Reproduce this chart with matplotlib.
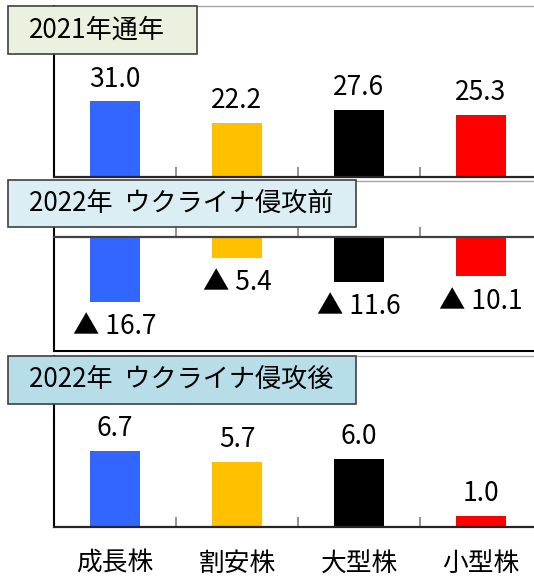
import numpy as np
import matplotlib
matplotlib.use("Agg")
import matplotlib.pyplot as plt
from matplotlib.patches import Rectangle

plt.rcParams['font.family'] = ['Noto Sans CJK JP', 'DejaVu Sans']

categories = ["成長株", "割安株", "大型株", "小型株"]
bar_colors = ["#3366FF", "#FFC000", "#000000", "#FF0000"]

titles = ["2021年通年", "2022年  ウクライナ侵攻前", "2022年  ウクライナ侵攻後"]
title_fills = ["#EBF1DE", "#DAEEF3", "#B7DEE8"]

returns_2021 = [31.0, 22.2, 27.6, 25.3]
returns_pre = [-16.7, -5.4, -11.6, -10.1]
returns_post = [6.7, 5.7, 6.0, 1.0]

W, H = 534, 577


def fx(px):
    return px / W


def fy(py):
    return 1 - py / H


fig = plt.figure(figsize=(W / 100, H / 100), dpi=100)

# (values, ylim, axes top px, axes bottom px, title box (x0, x1, y0, y1))
panels = [
    (returns_2021, (0, 70), 6, 177, (7.5, 196.5, 6, 53.5)),
    (returns_pre, (-29.5, 14.5), 181, 351, (7.5, 356, 180, 227)),
    (returns_post, (0, 15), 356, 527, (7.5, 356, 356, 403.5)),
]

x = np.arange(len(categories))
for i, (vals, ylim, top, bottom, box) in enumerate(panels):
    ax = fig.add_axes([fx(54), fy(bottom), fx(488), (bottom - top) / H])
    ax.bar(x, vals, width=0.41, color=bar_colors, zorder=2)
    ax.set_xlim(-0.5, 3.5)
    ax.set_ylim(*ylim)
    ax.set_yticks([])

    for s in ["left", "right", "top", "bottom"]:
        ax.spines[s].set_visible(False)
    ax.spines["left"].set_visible(True)
    ax.spines["left"].set_color("black")
    ax.spines["left"].set_linewidth(1.5)
    ax.spines["top"].set_visible(True)
    ax.spines["top"].set_color("#A6A6A6")
    ax.spines["top"].set_linewidth(1.0)
    ax.spines["bottom"].set_visible(True)
    ax.spines["bottom"].set_color("#262626")
    ax.spines["bottom"].set_linewidth(1.6)

    if ylim[0] < 0:
        # zero line carries the category ticks, frame line at the bottom
        ax.spines["bottom"].set_position(("data", 0))
        ax.spines["bottom"].set_color("#404040")
        ax.axhline(ylim[0], color="black", lw=1.5, clip_on=False)

    ax.set_xticks([0.5, 1.5, 2.5], minor=True)
    ax.tick_params(axis="x", which="minor", direction="in", length=7,
                   width=1.2, color="#808080")
    ax.set_xticks(x)
    if i == 2:
        ax.set_xticklabels(categories, fontsize=18.5)
        ax.tick_params(axis="x", which="major", length=0, pad=17)
    else:
        ax.set_xticklabels([])
        ax.tick_params(axis="x", which="major", length=0)

    for xi, v in zip(x, vals):
        if v >= 0:
            ax.annotate(f"{v:.1f}", (xi, v), xytext=(0, 16),
                        textcoords="offset points", ha="center", va="center",
                        fontsize=19)
        else:
            ax.annotate(f"▲ {abs(v):.1f}", (xi, v), xytext=(0, -18),
                        textcoords="offset points", ha="center", va="center",
                        fontsize=19)

    x0, x1, y0, y1 = box
    fig.add_artist(Rectangle((fx(x0), fy(y1)), fx(x1 - x0), (y1 - y0) / H,
                             transform=fig.transFigure, facecolor=title_fills[i],
                             edgecolor="#404040", lw=1.2, zorder=5))
    fig.text(fx(29), fy((y0 + y1) / 2), titles[i], ha="left", va="center",
             fontsize=18.8, zorder=6)

fig.savefig("out.png", dpi=100)
